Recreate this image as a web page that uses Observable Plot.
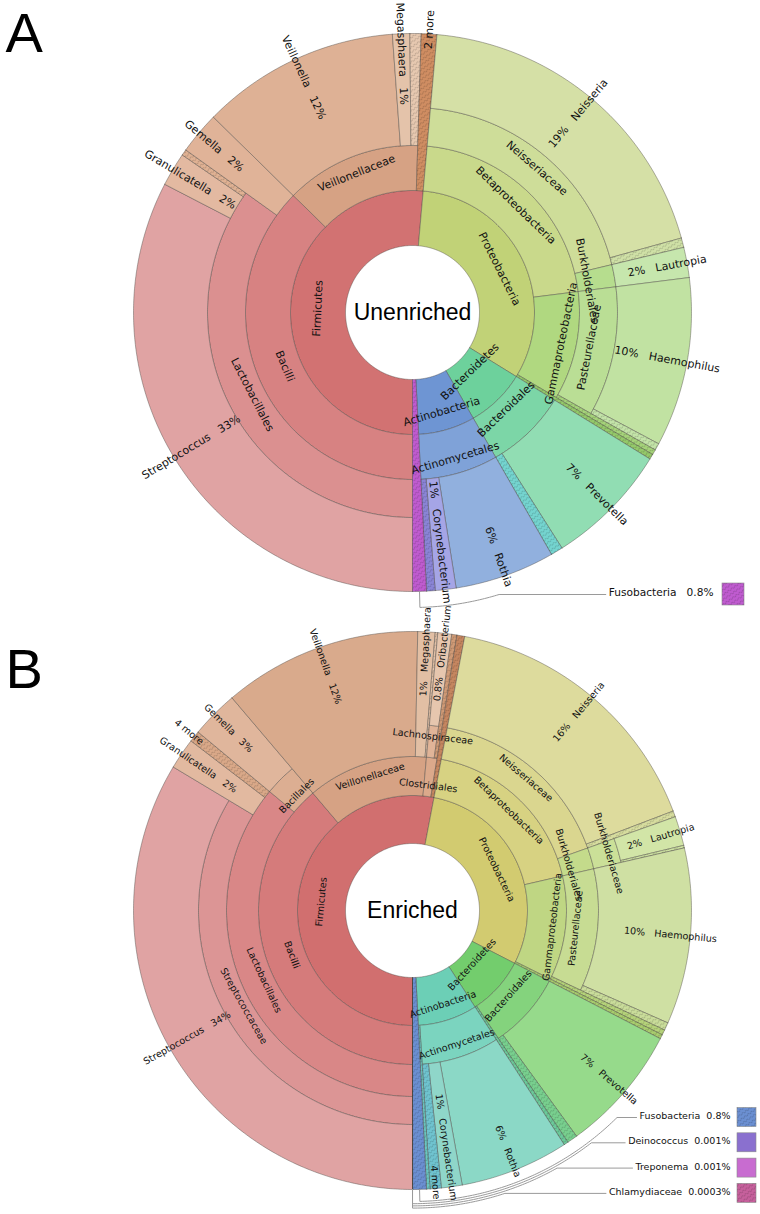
<!DOCTYPE html>
<html>
<head>
<meta charset="utf-8">
<script src="https://cdn.jsdelivr.net/npm/d3@7"></script>
<script src="https://cdn.jsdelivr.net/npm/@observablehq/plot@0.6"></script>
<style>
  html, body { margin: 0; padding: 0; background: #fff; }
  svg { display: block; }
</style>
</head>
<body>
<svg width="0" height="0" style="position:absolute">
  <defs>
    <pattern id="hatch" width="8" height="4" patternUnits="userSpaceOnUse" patternTransform="rotate(-35)">
      <path d="M0,3 L2,1 L4,3 L6,1 L8,3" fill="none" stroke="#000" stroke-opacity="0.22" stroke-width="0.7"/>
    </pattern>
  </defs>
</svg>
<div id="chart"></div>
<script>
// ---------------- DATA ----------------
const unenrichedTaxa = [
  "Firmicutes/Bacilli/Lactobacillales/Streptococcus",
  "Firmicutes/Bacilli/Lactobacillales/Granulicatella",
  "Firmicutes/Bacilli/Lactobacillales/*",
  "Firmicutes/Bacilli/Gemella",
  "Firmicutes/Veillonellaceae/Veillonella",
  "Firmicutes/Veillonellaceae/Megasphaera",
  "Firmicutes/Veillonellaceae/*",
  "Firmicutes/2 more",
  "Proteobacteria/Betaproteobacteria/Neisseriaceae/Neisseria",
  "Proteobacteria/Betaproteobacteria/Neisseriaceae/*",
  "Proteobacteria/Betaproteobacteria/Burkholderiales/Lautropia",
  "Proteobacteria/Gammaproteobacteria/Pasteurellaceae/Haemophilus",
  "Proteobacteria/Gammaproteobacteria/Pasteurellaceae/*",
  "Proteobacteria/Gammaproteobacteria/*",
  "Proteobacteria/*",
  "Bacteroidetes/Bacteroidales/Prevotella",
  "Bacteroidetes/Bacteroidales/*",
  "Actinobacteria/Actinomycetales/Rothia",
  "Actinobacteria/Actinomycetales/Corynebacterium",
  "Actinobacteria/Actinomycetales/*",
  "Fusobacteria"
];
const unenrichedPercent = [32.6, 1.95, 0.35, 2.45, 11.5, 1.0, 0.65, 0.9,
  19.3, 0.55, 1.75, 9.8, 0.4, 0.3, 0.3,
  7.2, 0.7,
  5.8, 1.2, 0.5,
  0.8];
const unenrichedKeys = ["Fusobacteria"];

const enrichedTaxa = [
  "Firmicutes/Bacilli/Lactobacillales/Streptococcaceae/Streptococcus",
  "Firmicutes/Bacilli/Lactobacillales/Granulicatella",
  "Firmicutes/Bacilli/Lactobacillales/4 more",
  "Firmicutes/Bacilli/Bacillales/Gemella",
  "Firmicutes/Veillonellaceae/Veillonella",
  "Firmicutes/Veillonellaceae/Megasphaera",
  "Firmicutes/Veillonellaceae/*",
  "Firmicutes/Clostridiales/Lachnospiraceae/Oribacterium",
  "Firmicutes/Clostridiales/*",
  "Firmicutes/*",
  "Proteobacteria/Betaproteobacteria/Neisseriaceae/Neisseria",
  "Proteobacteria/Betaproteobacteria/Neisseriaceae/*",
  "Proteobacteria/Betaproteobacteria/Burkholderiales/Burkholderiaceae/Lautropia",
  "Proteobacteria/Betaproteobacteria/Burkholderiales/Burkholderiaceae/*",
  "Proteobacteria/Gammaproteobacteria/Pasteurellaceae/Haemophilus",
  "Proteobacteria/Gammaproteobacteria/Pasteurellaceae/*",
  "Proteobacteria/Gammaproteobacteria/*",
  "Proteobacteria/*",
  "Bacteroidetes/Bacteroidales/Prevotella",
  "Bacteroidetes/Bacteroidales/*",
  "Bacteroidetes/*",
  "Actinobacteria/Actinomycetales/Rothia",
  "Actinobacteria/Actinomycetales/Corynebacterium",
  "Actinobacteria/Actinomycetales/4 more",
  "Actinobacteria/*",
  "Fusobacteria",
  "Deinococcus",
  "Treponema",
  "Chlamydiaceae"
];
const enrichedPercent = [33.6, 1.8, 0.65, 2.75, 11.5, 1.0, 0.15, 0.8, 0.3, 0.45,
  16.2, 0.35, 1.7, 0.15, 10.2, 0.45, 0.3, 0.25,
  7.4, 0.6, 0.25,
  6.3, 1.2, 0.65, 0.2,
  0.8, 0.001, 0.001, 0.0003];
const enrichedKeys = ["Fusobacteria", "Deinococcus", "Treponema", "Chlamydiaceae"];

const hatchedTaxa = ["Fusobacteria", "Chlamydiaceae"];

// ---------------- COLOURS (style) ----------------
const unenrichedColors = {
  "Firmicutes": "#d27272",
  "Firmicutes/Bacilli": "#d78282",
  "Firmicutes/Bacilli/Lactobacillales": "#db9090",
  "Firmicutes/Bacilli/Lactobacillales/Streptococcus": "#e0a3a3",
  "Firmicutes/Bacilli/Lactobacillales/Granulicatella": "#e3b9a1",
  "Firmicutes/Bacilli/Lactobacillales/*": "#dfb193",
  "Firmicutes/Bacilli/Gemella": "#e0b398",
  "Firmicutes/Veillonellaceae": "#d6a284",
  "Firmicutes/Veillonellaceae/Veillonella": "#deb195",
  "Firmicutes/Veillonellaceae/Megasphaera": "#e4c3aa",
  "Firmicutes/Veillonellaceae/*": "#e6c8b0",
  "Firmicutes/2 more": "#cf8d62",
  "Proteobacteria": "#c1d277",
  "Proteobacteria/Betaproteobacteria": "#c9d98b",
  "Proteobacteria/Betaproteobacteria/Neisseriaceae": "#cedd99",
  "Proteobacteria/Betaproteobacteria/Neisseriaceae/Neisseria": "#d5e0a6",
  "Proteobacteria/Betaproteobacteria/Neisseriaceae/*": "#cfe0a6",
  "Proteobacteria/Betaproteobacteria/Burkholderiales": "#b6dd8e",
  "Proteobacteria/Betaproteobacteria/Burkholderiales/Lautropia": "#c6e6ad",
  "Proteobacteria/Gammaproteobacteria": "#b0d880",
  "Proteobacteria/Gammaproteobacteria/Pasteurellaceae": "#bade95",
  "Proteobacteria/Gammaproteobacteria/Pasteurellaceae/Haemophilus": "#c1e2a2",
  "Proteobacteria/Gammaproteobacteria/Pasteurellaceae/*": "#c3e3a8",
  "Proteobacteria/Gammaproteobacteria/*": "#a5d27a",
  "Proteobacteria/*": "#94c86a",
  "Bacteroidetes": "#6dd19c",
  "Bacteroidetes/Bacteroidales": "#7cd6a7",
  "Bacteroidetes/Bacteroidales/Prevotella": "#91ddb3",
  "Bacteroidetes/Bacteroidales/*": "#74d4cf",
  "Actinobacteria": "#6e95d3",
  "Actinobacteria/Actinomycetales": "#7fa2d8",
  "Actinobacteria/Actinomycetales/Rothia": "#91b0de",
  "Actinobacteria/Actinomycetales/Corynebacterium": "#a5a5e6",
  "Actinobacteria/Actinomycetales/*": "#8a84d6",
  "Fusobacteria": "#bf5bcf"
};
const enrichedColors = {
  "Firmicutes": "#d16f6f",
  "Firmicutes/Bacilli": "#d57b7b",
  "Firmicutes/Bacilli/Lactobacillales": "#d98787",
  "Firmicutes/Bacilli/Lactobacillales/Streptococcaceae": "#dc9595",
  "Firmicutes/Bacilli/Lactobacillales/Streptococcaceae/Streptococcus": "#e0a3a3",
  "Firmicutes/Bacilli/Lactobacillales/Granulicatella": "#e2b9a0",
  "Firmicutes/Bacilli/Lactobacillales/4 more": "#d9a888",
  "Firmicutes/Bacilli/Bacillales": "#dcae92",
  "Firmicutes/Bacilli/Bacillales/Gemella": "#e0b69c",
  "Firmicutes/Veillonellaceae": "#d6a284",
  "Firmicutes/Veillonellaceae/Veillonella": "#d9aa8c",
  "Firmicutes/Veillonellaceae/Megasphaera": "#e2bfa4",
  "Firmicutes/Veillonellaceae/*": "#e3c2a8",
  "Firmicutes/Clostridiales": "#dba98b",
  "Firmicutes/Clostridiales/Lachnospiraceae": "#e0b498",
  "Firmicutes/Clostridiales/Lachnospiraceae/Oribacterium": "#e6c6ae",
  "Firmicutes/Clostridiales/*": "#cf9a76",
  "Firmicutes/*": "#c58660",
  "Proteobacteria": "#d2cb70",
  "Proteobacteria/Betaproteobacteria": "#d7d282",
  "Proteobacteria/Betaproteobacteria/Neisseriaceae": "#dad68f",
  "Proteobacteria/Betaproteobacteria/Neisseriaceae/Neisseria": "#dddb9d",
  "Proteobacteria/Betaproteobacteria/Neisseriaceae/*": "#d6dc9e",
  "Proteobacteria/Betaproteobacteria/Burkholderiales": "#c4db8b",
  "Proteobacteria/Betaproteobacteria/Burkholderiales/Burkholderiaceae": "#cbe098",
  "Proteobacteria/Betaproteobacteria/Burkholderiales/Burkholderiaceae/Lautropia": "#d2e5a7",
  "Proteobacteria/Betaproteobacteria/Burkholderiales/Burkholderiaceae/*": "#cfe3a3",
  "Proteobacteria/Gammaproteobacteria": "#bfd683",
  "Proteobacteria/Gammaproteobacteria/Pasteurellaceae": "#c7dc93",
  "Proteobacteria/Gammaproteobacteria/Pasteurellaceae/Haemophilus": "#cfe0a3",
  "Proteobacteria/Gammaproteobacteria/Pasteurellaceae/*": "#c9dc9a",
  "Proteobacteria/Gammaproteobacteria/*": "#b5d27a",
  "Proteobacteria/*": "#a8cc6e",
  "Bacteroidetes": "#73cd6d",
  "Bacteroidetes/Bacteroidales": "#84d37d",
  "Bacteroidetes/Bacteroidales/Prevotella": "#96da8b",
  "Bacteroidetes/Bacteroidales/*": "#78cf8e",
  "Bacteroidetes/*": "#6cc99a",
  "Actinobacteria": "#6ccfb6",
  "Actinobacteria/Actinomycetales": "#7bd4bf",
  "Actinobacteria/Actinomycetales/Rothia": "#8bd8c6",
  "Actinobacteria/Actinomycetales/Corynebacterium": "#8fd6c9",
  "Actinobacteria/Actinomycetales/4 more": "#6fc3cf",
  "Actinobacteria/*": "#6ac6c0",
  "Fusobacteria": "#6b8fd1",
  "Deinococcus": "#8a70cf",
  "Treponema": "#c86cd0",
  "Chlamydiaceae": "#c6609c"
};

// ---------------- LAYOUT (style) ----------------
const charts = [
  {id: "A", title: "Unenriched", taxa: unenrichedTaxa, values: unenrichedPercent, colors: unenrichedColors, keys: unenrichedKeys,
   cx: 412, cy: 312, radii: [67, 122, 167, 205, 279], fontSize: 11, labelCenter: 259,
   keyRight: 713, keyY0: 594, keyGap: 25, keyBox: 22, keyBoxGap: 9, keyFont: 10.6, keySep: "\u00a0\u00a0\u00a0",
   leaderR0: 295, leaderStep: 2.2, letterY: 33.6},
  {id: "B", title: "Enriched", taxa: enrichedTaxa, values: enrichedPercent, colors: enrichedColors, keys: enrichedKeys,
   cx: 412, cy: 910, radii: [67, 115, 154, 186, 214, 279], fontSize: 9.6, labelCenter: 259,
   keyRight: 730, keyY0: 1117, keyGap: 25.3, keyBox: 19, keyBoxGap: 7, keyFont: 9.5, keySep: "\u00a0\u00a0",
   leaderR0: 291, leaderStep: 2.2, letterY: 670}
];

const RAD = Math.PI / 180;
const pt = (c, r, a) => [c.cx + r * Math.sin(a * RAD), c.cy - r * Math.cos(a * RAD)];
const fmtPct = v => v >= 1 ? Math.round(v) + "%" : d3.format(".1r")(v) + "%";
const ctx = document.createElement("canvas").getContext("2d");
const measure = (s, size) => { ctx.font = `${size}px "DejaVu Sans"`; return ctx.measureText(s).width; };
const norm = a => ((a % 360) + 360) % 360;

const wedgePts = [], hatchPts = [], leaderPts = [], tangLabels = [], radLabels = [], keyBoxes = [], keyTexts = [], titles = [];

for (const c of charts) {
  const total = d3.sum(c.values);
  const cum = d3.cumsum(c.values);
  const nodes = new Map();
  c.taxa.forEach((p, i) => {
    const parts = p.split("/");
    const a0 = 180 + (cum[i] - c.values[i]) / total * 360;
    const a1 = 180 + cum[i] / total * 360;
    parts.forEach((name, d) => {
      const key = parts.slice(0, d + 1).join("/");
      if (!nodes.has(key)) nodes.set(key, {key, name, depth: d, a0, a1, value: 0, leaf: d === parts.length - 1});
      const n = nodes.get(key);
      n.a1 = a1; n.value += c.values[i];
    });
  });
  const rMax = c.radii[c.radii.length - 1];
  const all = [...nodes.values()];
  for (const n of all) {
    n.r0 = c.radii[n.depth];
    n.r1 = n.leaf ? rMax : c.radii[n.depth + 1];
    n.fill = c.colors[n.key];
    n.hatch = n.name === "*" || /more$/.test(n.name) || hatchedTaxa.includes(n.name);
    const steps = Math.max(2, Math.ceil((n.a1 - n.a0) / 0.5));
    const pts = [];
    for (let k = 0; k <= steps; k++) pts.push(pt(c, n.r1, n.a0 + (n.a1 - n.a0) * k / steps));
    for (let k = steps; k >= 0; k--) pts.push(pt(c, n.r0, n.a0 + (n.a1 - n.a0) * k / steps));
    pts.push(pts[0]);
    const id = c.id + ":" + n.key;
    for (const [x, y] of pts) {
      wedgePts.push({id, x, y, fill: n.fill});
      if (n.hatch) hatchPts.push({id, x, y});
    }
  }
  // tangential labels of inner rings; labels too long for their wedge step aside
  const internal = all.filter(n => !n.leaf).sort((a, b) => a.depth - b.depth || a.a0 - b.a0);
  const prev = {};
  for (const n of internal) {
    const th = norm((n.a0 + n.a1) / 2);
    const w = n.r1 - n.r0;
    const mid = (n.r0 + n.r1) / 2;
    const bottom = th > 90 && th < 270;
    const len = measure(n.name, c.fontSize);
    const fits = len < (n.a1 - n.a0) * RAD * mid;
    const p = prev[n.depth];
    let r, sign;
    if (fits) {
      sign = bottom ? -1 : 1;
      r = mid + (bottom ? -6 : 6 * Math.abs(Math.cos(th * RAD)));
    } else {
      const collides = p && (Math.abs((n.a0 + n.a1) / 2 - p.a) * RAD * mid < (len + p.len) / 2);
      if (p && (!p.fits || collides)) sign = -p.sign;
      else sign = n.depth % 2 === 0 ? -1 : 1;
      r = mid + (sign < 0 ? -0.22 * w : 0.16 * w);
    }
    prev[n.depth] = {sign, fits, len, a: (n.a0 + n.a1) / 2};
    const [x, y] = pt(c, r, th);
    const rot = bottom ? th - 180 : (th >= 270 ? th - 360 : th);
    tangLabels.push({x, y, rotate: rot, text: n.name, size: c.fontSize});
  }
  // radial labels of leaves
  for (const n of all.filter(n => n.leaf && n.name !== "*" && !c.keys.includes(n.name))) {
    const th = norm((n.a0 + n.a1) / 2);
    const right = th < 180;
    const nearKey = th > 165 && th < 195;
    const gap = "\u00a0\u00a0\u00a0";
    const isMore = /more$/.test(n.name);
    const text = isMore ? n.name : (right ? fmtPct(n.value) + gap + n.name : n.name + gap + fmtPct(n.value));
    const len = measure(text, c.fontSize);
    let outer;
    if (isMore) outer = rMax + (nearKey ? 11 : 24);
    else outer = nearKey ? Math.min(c.labelCenter + len / 2, rMax + 14) : c.labelCenter + len / 2;
    const [x, y] = pt(c, outer, th);
    radLabels.push({x, y, rotate: right ? th - 90 : th - 270, text, size: c.fontSize, anchor: right ? "end" : "start"});
  }
  // key / legend with leader lines
  c.keys.forEach((name, i) => {
    const n = nodes.get(name);
    const th = norm((n.a0 + n.a1) / 2);
    const rL = c.leaderR0 + i * c.leaderStep;
    const ty = c.keyY0 + i * c.keyGap;
    const thE = Math.acos((c.cy - ty) / rL) / RAD;
    const label = name + c.keySep + fmtPct(n.value);
    const w = measure(label, c.keyFont);
    const pts = [pt(c, rMax, th)];
    const steps = Math.max(2, Math.ceil(Math.abs(th - thE) / 0.5));
    for (let k = 0; k <= steps; k++) pts.push(pt(c, rL, th + (thE - th) * k / steps));
    pts.push([c.keyRight - w - 3, ty]);
    const id = c.id + ":key:" + name;
    for (const [x, y] of pts) leaderPts.push({id, x, y});
    keyTexts.push({x: c.keyRight, y: ty + 1.5, text: label, size: c.keyFont});
    keyBoxes.push({x1: c.keyRight + c.keyBoxGap, x2: c.keyRight + c.keyBoxGap + c.keyBox,
                   y1: ty - c.keyBox / 2, y2: ty + c.keyBox / 2, fill: n.fill, hatch: n.hatch});
  });
  titles.push({x: c.cx, y: c.cy, text: c.title});
}
const letters = charts.map(c => ({x: 5, y: c.letterY, text: c.id}));

const chart = Plot.plot({
  width: 760,
  height: 1214,
  margin: 0,
  x: {domain: [0, 760], axis: null},
  y: {domain: [0, 1214], reverse: true, axis: null},
  color: {type: "identity"},
  style: {fontFamily: "DejaVu Sans", background: "#fff"},
  marks: [
    Plot.line(wedgePts, {x: "x", y: "y", z: "id", fill: "fill", stroke: "#4f4a46", strokeWidth: 0.55, strokeOpacity: 0.8, strokeLinejoin: "miter", curve: "linear"}),
    Plot.line(hatchPts, {x: "x", y: "y", z: "id", fill: "url(#hatch)", stroke: "none", curve: "linear"}),
    Plot.line(leaderPts, {x: "x", y: "y", z: "id", stroke: "#9a9a9a", strokeWidth: 1, curve: "linear"}),
    Plot.text(tangLabels, {x: "x", y: "y", text: "text", rotate: "rotate", fontSize: "size", fill: "#111", textAnchor: "middle"}),
    Plot.text(radLabels.filter(d => d.anchor === "end"), {x: "x", y: "y", text: "text", rotate: "rotate", fontSize: "size", fill: "#111", textAnchor: "end"}),
    Plot.text(radLabels.filter(d => d.anchor === "start"), {x: "x", y: "y", text: "text", rotate: "rotate", fontSize: "size", fill: "#111", textAnchor: "start"}),
    Plot.rect(keyBoxes, {x1: "x1", x2: "x2", y1: "y1", y2: "y2", fill: "fill", stroke: "#8a8a8a", strokeWidth: 0.6}),
    Plot.rect(keyBoxes.filter(d => d.hatch), {x1: "x1", x2: "x2", y1: "y1", y2: "y2", fill: "url(#hatch)"}),
    Plot.text(keyTexts, {x: "x", y: "y", text: "text", fontSize: "size", fill: "#111", textAnchor: "end", lineAnchor: "bottom"}),
    Plot.text(titles, {x: "x", y: "y", text: "text", fontSize: 23, fontFamily: "Liberation Sans", fill: "#000", textAnchor: "middle"}),
    Plot.text(letters, {x: "x", y: "y", text: "text", fontSize: 56, fontFamily: "Liberation Sans", fill: "#000", textAnchor: "start"})
  ]
});
document.getElementById("chart").appendChild(chart);
</script>
</body>
</html>
